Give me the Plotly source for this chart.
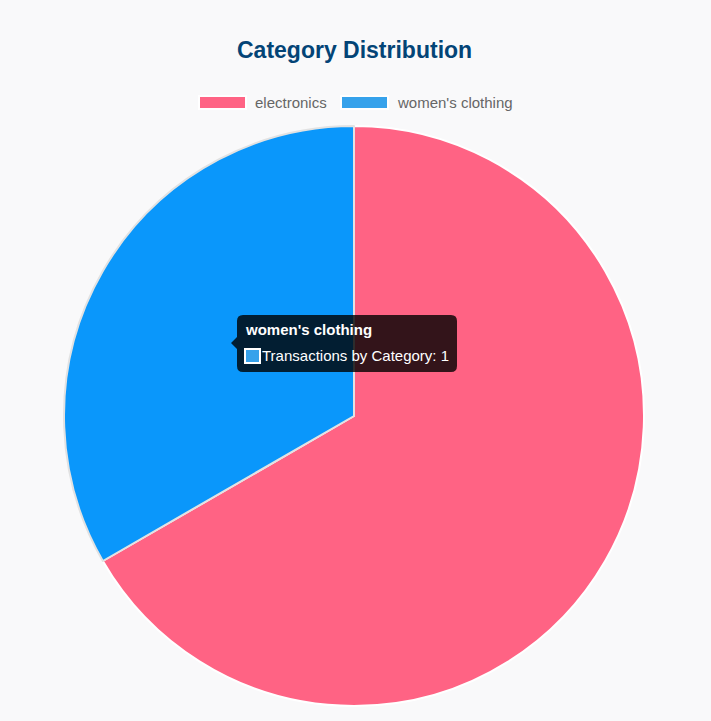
import plotly.graph_objects as go

categories = ["electronics", "women's clothing"]
values = [2, 1]
slice_colors = ["#ff6384", "#0a97fb"]
legend_colors = ["#ff6384", "#36a2eb"]
series_name = "Transactions by Category"
title_text = "Category Distribution"

W, H = 711, 721
FONT = "Liberation Sans"

def px(x):
    return x / W

def py(y):
    return 1 - y / H

fig = go.Figure()
fig.add_trace(go.Pie(
    labels=categories,
    values=values,
    sort=False,
    direction="clockwise",
    rotation=0,
    textinfo="none",
    hoverinfo="skip",
    marker=dict(colors=slice_colors, line=dict(color=["#ffffff", "#e2e2e2"], width=2)),
    domain=dict(x=[px(64), px(644)], y=[py(706), py(126)]),
    showlegend=False,
))

shapes = []
annotations = []

# title
annotations.append(dict(
    x=px(354.5), y=py(50), xref="paper", yref="paper", text="<b>" + title_text + "</b>",
    showarrow=False, font=dict(family=FONT, size=23, color="#034476"),
    xanchor="center", yanchor="middle",
))

# legend (Chart.js-style boxes)
legend_x = [199, 341]
for i, cat in enumerate(categories):
    x0 = legend_x[i]
    shapes.append(dict(
        type="rect", xref="paper", yref="paper",
        x0=px(x0), x1=px(x0 + 47), y0=py(109), y1=py(96),
        fillcolor=legend_colors[i], line=dict(color="#ffffff", width=2),
    ))
    annotations.append(dict(
        x=px(x0 + 54), y=py(103), xref="paper", yref="paper", text=cat,
        showarrow=False, font=dict(family=FONT, size=15, color="#666666"),
        xanchor="left", yanchor="middle",
    ))

# tooltip
tx0, tx1, ty0, ty1, r = 237, 457, 315, 372, 6
path = (
    f"M {px(tx0 + r)},{py(ty0)} L {px(tx1 - r)},{py(ty0)} "
    f"Q {px(tx1)},{py(ty0)} {px(tx1)},{py(ty0 + r)} "
    f"L {px(tx1)},{py(ty1 - r)} Q {px(tx1)},{py(ty1)} {px(tx1 - r)},{py(ty1)} "
    f"L {px(tx0 + r)},{py(ty1)} Q {px(tx0)},{py(ty1)} {px(tx0)},{py(ty1 - r)} "
    f"L {px(tx0)},{py(349)} L {px(tx0 - 6)},{py(343)} L {px(tx0)},{py(337)} "
    f"L {px(tx0)},{py(ty0 + r)} Q {px(tx0)},{py(ty0)} {px(tx0 + r)},{py(ty0)} Z"
)
shapes.append(dict(type="path", xref="paper", yref="paper", path=path,
                   fillcolor="rgba(0,0,0,0.8)", line=dict(width=0)))
annotations.append(dict(
    x=px(243), y=py(329), xref="paper", yref="paper", text="<b>" + categories[1] + "</b>",
    showarrow=False, font=dict(family=FONT, size=15, color="#ffffff"),
    xanchor="left", yanchor="middle",
))
shapes.append(dict(type="rect", xref="paper", yref="paper",
                   x0=px(245), x1=px(260), y0=py(363), y1=py(349),
                   fillcolor=legend_colors[1], line=dict(color="#ffffff", width=2)))
annotations.append(dict(
    x=px(260), y=py(355), xref="paper", yref="paper",
    text=f"{series_name}: {values[1]}",
    showarrow=False, font=dict(family=FONT, size=15, color="#ffffff"),
    xanchor="left", yanchor="middle",
))

fig.update_layout(
    width=W, height=H,
    margin=dict(l=0, r=0, t=0, b=0),
    paper_bgcolor="#f9f9fa",
    plot_bgcolor="#f9f9fa",
    font=dict(family=FONT),
    shapes=shapes,
    annotations=annotations,
    showlegend=False,
)

fig.write_html("out.html")
